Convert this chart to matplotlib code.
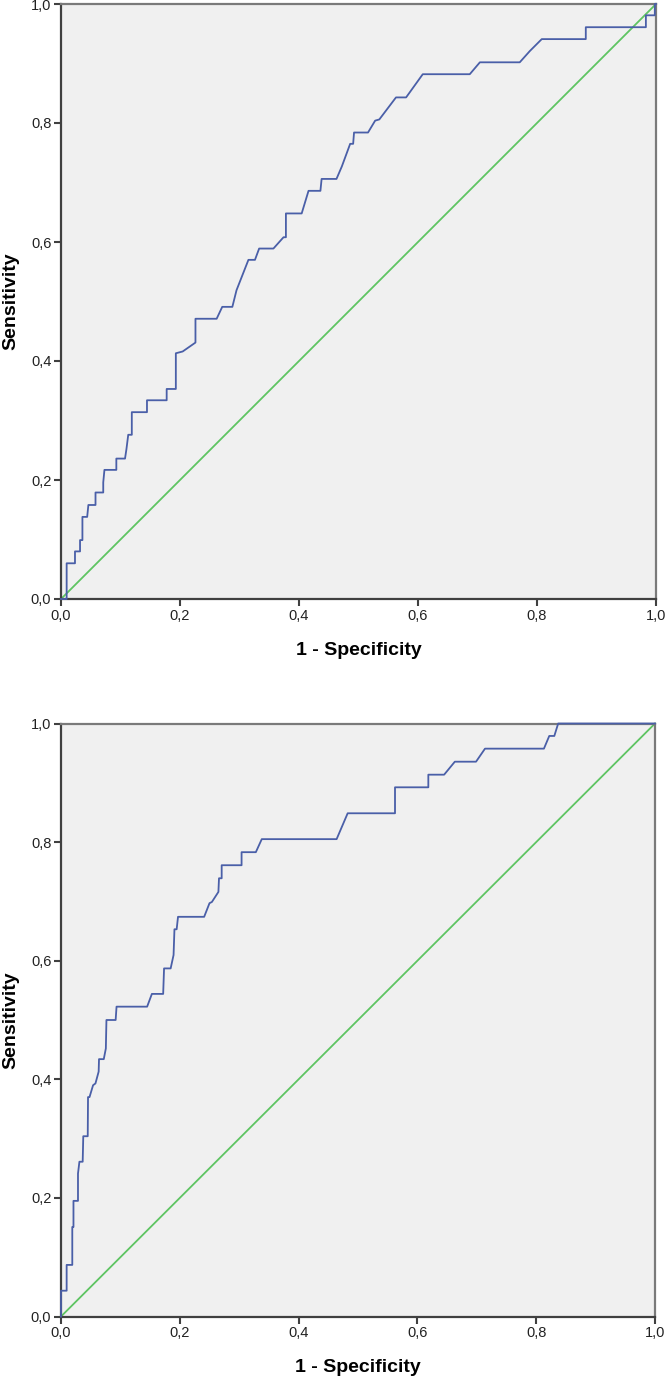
import matplotlib.pyplot as plt

plt.rcParams['font.family'] = ['Liberation Sans', 'DejaVu Sans']

# ROC curve 1 (top panel)
fpr_top = [0, 0.0095, 0.0095, 0.0235, 0.0235, 0.032, 0.032, 0.036, 0.036, 0.044, 0.046,
           0.058, 0.058, 0.071, 0.071, 0.073, 0.093, 0.093, 0.1076, 0.110, 0.113, 0.119,
           0.119, 0.1445, 0.1445, 0.1776, 0.1776, 0.193, 0.193, 0.2045, 0.226, 0.226,
           0.2616, 0.271, 0.288, 0.295, 0.315, 0.326, 0.333, 0.357, 0.374, 0.378, 0.378,
           0.4045, 0.416, 0.436, 0.438, 0.463, 0.472, 0.486, 0.491, 0.4925, 0.516, 0.528,
           0.535, 0.563, 0.580, 0.608, 0.687, 0.704, 0.771, 0.788, 0.808, 0.882, 0.882,
           0.983, 0.983, 0.998, 0.998, 1.0]
tpr_top = [0, 0, 0.06, 0.06, 0.08, 0.08, 0.099, 0.099, 0.138, 0.138, 0.158,
           0.158, 0.179, 0.179, 0.196, 0.217, 0.217, 0.236, 0.236, 0.252, 0.276, 0.276,
           0.314, 0.314, 0.334, 0.334, 0.353, 0.353, 0.413, 0.416, 0.431, 0.471,
           0.471, 0.491, 0.491, 0.519, 0.570, 0.570, 0.589, 0.589, 0.608, 0.608, 0.648,
           0.648, 0.686, 0.686, 0.706, 0.706, 0.727, 0.765, 0.765, 0.784, 0.784, 0.804,
           0.806, 0.843, 0.843, 0.882, 0.882, 0.902, 0.902, 0.921, 0.941, 0.941, 0.961,
           0.961, 0.981, 0.981, 1.0, 1.0]

# ROC curve 2 (bottom panel)
fpr_bot = [0, 0, 0.0095, 0.0095, 0.019, 0.019, 0.021, 0.021, 0.0286, 0.0286, 0.031,
           0.0365, 0.0375, 0.045, 0.0455, 0.048, 0.054, 0.058, 0.0634, 0.064, 0.072,
           0.0755, 0.0765, 0.092, 0.0935, 0.145, 0.153, 0.172, 0.1735, 0.1846, 0.1895,
           0.191, 0.1947, 0.197, 0.241, 0.25, 0.254, 0.265, 0.266, 0.2705, 0.2705,
           0.304, 0.304, 0.328, 0.338, 0.464, 0.4826, 0.5623, 0.5623, 0.6184, 0.6184,
           0.645, 0.663, 0.6987, 0.7138, 0.813, 0.822, 0.8305, 0.837, 1.0]
tpr_bot = [0, 0.0435, 0.0435, 0.087, 0.087, 0.151, 0.151, 0.195, 0.195, 0.241, 0.261,
           0.261, 0.304, 0.304, 0.37, 0.37, 0.39, 0.393, 0.413, 0.434, 0.434,
           0.452, 0.5, 0.5, 0.5225, 0.5225, 0.544, 0.544, 0.587, 0.587, 0.6096,
           0.653, 0.653, 0.674, 0.674, 0.697, 0.699, 0.716, 0.739, 0.739, 0.761,
           0.761, 0.783, 0.783, 0.805, 0.805, 0.8486, 0.8486, 0.8924, 0.8924, 0.9137,
           0.9137, 0.9356, 0.9356, 0.9576, 0.9576, 0.979, 0.979, 1.0, 1.0]

ref_line = [0, 1]
ticks = [0, 0.2, 0.4, 0.6, 0.8, 1.0]
tick_labels = ['0,0', '0,2', '0,4', '0,6', '0,8', '1,0']

BLUE = '#4a5fa8'
GREEN = '#5ec462'


def draw_roc(ax, fpr, tpr):
    ax.set_facecolor('#f0f0f0')
    ax.plot(ref_line, ref_line, color=GREEN, lw=1.3, zorder=2, clip_on=False)
    ax.plot(fpr, tpr, color=BLUE, lw=1.3, zorder=3, clip_on=False)
    ax.set_xlim(0, 1)
    ax.set_ylim(0, 1)
    ax.set_xticks(ticks)
    ax.set_xticklabels(tick_labels)
    ax.set_yticks(ticks)
    ax.set_yticklabels(tick_labels)
    ax.tick_params(direction='out', length=5, width=1.5, color='#404040',
                   labelsize=10.5, pad=2, labelcolor='#222222')
    for side in ['left', 'bottom']:
        ax.spines[side].set_color('#404040')
        ax.spines[side].set_linewidth(1.6)
    for side in ['top', 'right']:
        ax.spines[side].set_color('#7a7a7a')
        ax.spines[side].set_linewidth(1.6)
    ax.set_xlabel('1 - Specificity', fontsize=14, fontweight='bold')
    ax.set_ylabel('Sensitivity', fontsize=14, fontweight='bold')
    ax.xaxis.set_label_coords(0.5, -0.086)
    ax.xaxis.label.set_va('center')
    ax.yaxis.set_label_coords(-0.085, 0.5)
    ax.yaxis.label.set_va('center')


fig = plt.figure(figsize=(6.66, 13.79), dpi=100)
ax1 = fig.add_axes([61 / 666, 1 - 599 / 1379, 595 / 666, 595 / 1379])
ax2 = fig.add_axes([61 / 666, 1 - 1316.5 / 1379, 594 / 666, 593 / 1379])

draw_roc(ax1, fpr_top, tpr_top)
draw_roc(ax2, fpr_bot, tpr_bot)

fig.savefig('out.png', dpi=100)
